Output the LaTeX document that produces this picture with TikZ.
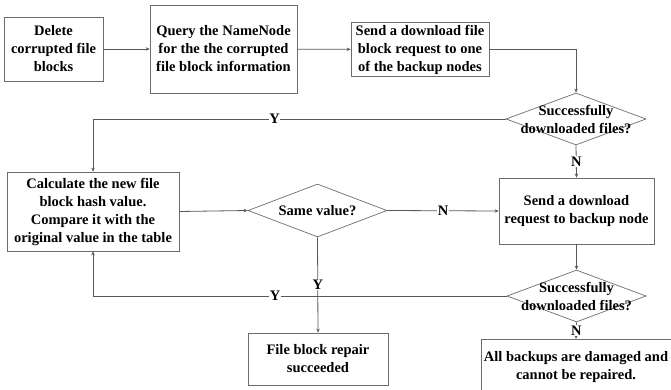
\documentclass[tikz,border=0pt]{standalone}
\usepackage{fontspec}
\setmainfont{Liberation Serif}
\usetikzlibrary{shapes.geometric,arrows.meta}

\tikzset{
  process/.style={draw=gray!85!black, line width=0.7pt, rectangle, align=center,
    inner sep=2pt, font=\fontsize{14.5}{18}\selectfont\bfseries},
  decision/.style={draw=gray!85!black, line width=0.7pt, diamond, inner sep=0pt},
  dtext/.style={align=center, font=\fontsize{14.5}{18}\selectfont\bfseries},
  flow/.style={draw=black!65, line width=0.8pt, -{Stealth[length=4pt,width=3.5pt]}},
  yn/.style={fill=white, inner sep=0.5pt, font=\fontsize{14.5}{18}\selectfont\bfseries}
}

\begin{document}
\begin{tikzpicture}[x=1pt,y=-1pt]
  \useasboundingbox (0,0) rectangle (671,390);
  \clip (0,0) rectangle (671,390);

  % boxes
  \node[process, minimum width=99, minimum height=64] (del) at (53.5,49) {Delete\\corrupted file\\blocks};
  \node[process, minimum width=147, minimum height=88] (query) at (223.5,49) {Query the NameNode\\for the the corrupted\\file block information};
  \node[process, minimum width=138, minimum height=53] (send) at (420,49.5) {Send a download file\\block request to one\\of the backup nodes};
  \node[decision, minimum width=140, minimum height=52,
        label={[dtext]center:Successfully\\downloaded files?}] (ok1) at (576,119) {};
  \node[process, minimum width=172, minimum height=79] (calc) at (93,211.5) {Calculate the new file\\block hash value.\\Compare it with the\\original value in the table};
  \node[decision, minimum width=139, minimum height=53,
        label={[dtext]center:Same value?}] (same) at (317.5,210.5) {};
  \node[process, minimum width=155, minimum height=66] (backup) at (576.5,211) {Send a download\\request to backup node};
  \node[decision, minimum width=139, minimum height=52,
        label={[dtext]center:Successfully\\downloaded files?}] (ok2) at (576.5,296) {};
  \node[process, minimum width=140, minimum height=52] (done) at (318,359) {File block repair\\succeeded};
  \node[process, anchor=north, minimum width=190, inner ysep=12pt] (fail) at (576,339) {All backups are damaged and\\cannot be repaired.};

  % connectors
  \draw[flow] (del) -- (query);
  \draw[flow] (query) -- (send);
  \draw[flow] (send.east) -| (ok1.north);
  \draw[flow] (ok1.west) -| node[yn, pos=0.28] {Y} (calc.north);
  \draw[flow] (ok1.south) -- node[yn] {N} (backup.north);
  \draw[flow] (calc.east) -- (same.west);
  \draw[flow] (same.east) -- node[yn] {N} (backup.west);
  \draw[flow] (same.south) -- node[yn] {Y} (done.north);
  \draw[flow] (backup.south) -- (ok2.north);
  \draw[flow] (ok2.west) -| node[yn, pos=0.28] {Y} (calc.south);
  \draw[flow] (ok2.south) -- node[yn] {N} (fail.north);
\end{tikzpicture}
\end{document}
